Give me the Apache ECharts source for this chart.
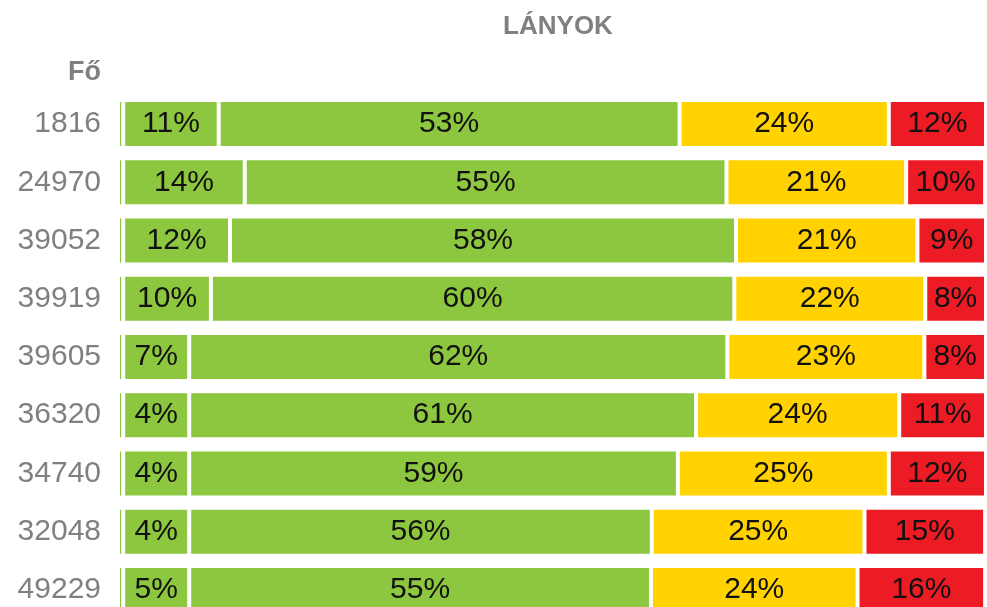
<!DOCTYPE html>
<html>
<head>
<meta charset="utf-8">
<script src="https://cdn.jsdelivr.net/npm/echarts@6/dist/echarts.min.js"></script>
<style>
    html, body { margin: 0; padding: 0; background: #fff; }
    #chart { width: 987px; height: 607px; }
</style>
</head>
<body>
<div id="chart"></div>
<script>
// sorok (létszám)
const kategoriak = ["1816", "24970", "39052", "39919", "39605", "36320", "34740", "32048", "49229"];

// sávok szélessége
const csik = [0.6, 0.6, 0.6, 0.6, 0.6, 0.6, 0.6, 0.6, 0.6];
const zold1 = [11.0, 14.0, 12.3, 10.1, 7.6, 7.6, 7.6, 7.6, 7.6];
const zold2 = [53.1, 55.5, 58.3, 60.3, 62.0, 58.4, 56.3, 53.3, 53.2];
const sarga = [24.1, 20.7, 20.9, 22.0, 22.7, 23.4, 24.3, 24.5, 23.8];
const piros = [11.2, 9.1, 7.9, 7.0, 7.1, 10.0, 11.2, 13.9, 14.7];

// a sávokra írt százalékok
const zold1Cimke = [11, 14, 12, 10, 7, 4, 4, 4, 5];
const zold2Cimke = [53, 55, 58, 60, 62, 61, 59, 56, 55];
const sargaCimke = [24, 21, 21, 22, 23, 24, 25, 25, 24];
const pirosCimke = [12, 10, 9, 8, 8, 11, 12, 15, 16];

const chart = echarts.init(document.getElementById("chart"));

const sav = (name, data, color, cimkek) => ({
    type: "bar",
    name: name,
    stack: "osszes",
    data: data,
    barWidth: 48,
    clip: false,
    itemStyle: {
        color: color,
        borderColor: "#ffffff",
        borderWidth: 2
    },
    label: {
        show: !!cimkek,
        position: "inside",
        color: "#111111",
        fontFamily: "Liberation Sans, Arial, sans-serif",
        fontSize: 30,
        formatter: p => cimkek ? cimkek[p.dataIndex] + "%" : ""
    },
    silent: true,
    animation: false
});

const option = {
    backgroundColor: "#ffffff",
    grid: {
        left: 118,
        right: 1,
        top: 95,
        height: 524,
        outerBoundsMode: "none"
    },
    graphic: [
        {
            type: "text",
            x: 558,
            y: 27,
            style: {
                text: "LÁNYOK",
                fill: "#808080",
                font: "bold 26px 'Liberation Sans', Arial, sans-serif",
                textAlign: "center",
                textVerticalAlign: "middle"
            }
        },
        {
            type: "text",
            x: 101,
            y: 73,
            style: {
                text: "Fő",
                fill: "#808080",
                font: "bold 27px 'Liberation Sans', Arial, sans-serif",
                textAlign: "right",
                textVerticalAlign: "middle"
            }
        }
    ],
    xAxis: {
        type: "value",
        min: 0,
        max: 100,
        show: false
    },
    yAxis: {
        type: "category",
        inverse: true,
        data: kategoriak,
        axisLine: { show: false },
        axisTick: { show: false },
        axisLabel: {
            margin: 17,
            color: "#808080",
            fontFamily: "Liberation Sans, Arial, sans-serif",
            fontSize: 30
        }
    },
    series: [
        sav("csik", csik, "#8dc63f", null),
        sav("zold1", zold1, "#8dc63f", zold1Cimke),
        sav("zold2", zold2, "#8dc63f", zold2Cimke),
        sav("sarga", sarga, "#ffd200", sargaCimke),
        sav("piros", piros, "#ed1c24", pirosCimke)
    ]
};

chart.setOption(option);
</script>
</body>
</html>
